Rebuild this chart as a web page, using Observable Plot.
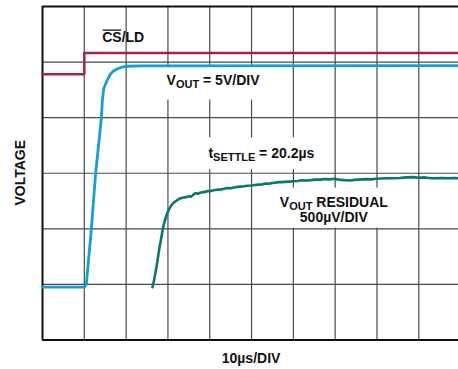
<!DOCTYPE html>
<html><head><meta charset="utf-8">
<script src="https://cdn.jsdelivr.net/npm/d3@7"></script>
<script src="https://cdn.jsdelivr.net/npm/@observablehq/plot@0.6"></script>
<style>
body{margin:0;background:#fff}
#chart{width:458px;height:369px;overflow:hidden}
text{white-space:pre}
</style>
</head><body><div id="chart"></div>
<script>
// time axis in divisions (10us/DIV), vertical in screen divisions
const gridX = [1,2,3,4,5,6,7,8,9];
const gridY = [1,2,3,4,5];

// CS/LD logic trace
const csldX = [0, 1.0, 1.0, 9.95];
const csldY = [4.782, 4.782, 5.163, 5.163];

// VOUT (5V/DIV)
const voutX = [0, 1.0, 1.048, 1.168, 1.271, 1.408, 1.432, 1.463, 1.511, 1.571, 1.631, 1.70, 1.791, 1.90, 2.031, 2.35, 9.95];
const voutY = [0.95, 0.95, 1.0, 1.99, 3.0, 3.99, 4.31, 4.52, 4.61, 4.71, 4.79, 4.84, 4.88, 4.91, 4.925, 4.933, 4.935];

// VOUT residual (500uV/DIV)
const residX = [2.63,2.67,2.71,2.745,2.775,2.80,2.83,2.86,2.885,2.92,2.95,2.99,3.03,3.09,3.15,3.21,3.27,3.35,3.43,3.50,3.55,3.59,3.63,3.67,3.72,3.77,3.83,3.90,3.95,4.00,4.07,4.13,4.20,4.27,4.35,4.42,4.50,4.58,4.66,4.74,4.82,4.90,4.99,5.08,5.16,5.25,5.33,5.41,5.50,5.60,5.71,5.80,5.90,6.00,6.10,6.20,6.35,6.45,6.55,6.65,6.75,6.85,6.99,7.05,7.15,7.25,7.35,7.45,7.55,7.65,7.75,7.85,7.99,8.10,8.25,8.40,8.55,8.70,8.87,9.00,9.15,9.30,9.42,9.55,9.70,9.85,9.95];
const residY = [0.95,1.08,1.25,1.40,1.55,1.67,1.79,1.92,2.03,2.13,2.21,2.29,2.36,2.43,2.48,2.51,2.54,2.56,2.57,2.585,2.58,2.60,2.63,2.64,2.63,2.65,2.66,2.665,2.68,2.675,2.69,2.70,2.705,2.71,2.72,2.735,2.73,2.745,2.755,2.76,2.765,2.775,2.78,2.79,2.795,2.80,2.815,2.81,2.825,2.835,2.84,2.845,2.85,2.855,2.86,2.875,2.87,2.88,2.885,2.885,2.895,2.89,2.90,2.89,2.88,2.875,2.87,2.88,2.885,2.89,2.895,2.89,2.90,2.905,2.91,2.91,2.915,2.925,2.93,2.92,2.925,2.91,2.91,2.915,2.91,2.915,2.91];

const xLabel = "10µs/DIV";
const yLabel = "VOLTAGE";

const toRows = (xs, ys) => xs.map((x, i) => ({x, y: ys[i]}));

const FONT = "'Liberation Sans', Arial, Helvetica, sans-serif";

const plot = Plot.plot({
  width: 458, height: 369,
  marginLeft: 42, marginRight: 0, marginTop: 6, marginBottom: 29.5,
  x: {domain: [0, 9.95], axis: null},
  y: {domain: [0, 6], axis: null},
  style: {background: "#fff", fontFamily: FONT},
  marks: [
    Plot.ruleX(gridX, {stroke: "#4a4a4a", strokeWidth: 1.2}),
    Plot.ruleY(gridY, {stroke: "#4a4a4a", strokeWidth: 1.2}),
    Plot.ruleX([0], {stroke: "#111", strokeWidth: 2}),
    Plot.ruleY([0, 6], {stroke: "#111", strokeWidth: 2}),
    Plot.line(toRows(csldX, csldY), {x: "x", y: "y", stroke: "#a3214f", strokeWidth: 2.5, curve: "linear"}),
    Plot.line(toRows(residX, residY), {x: "x", y: "y", stroke: "#08776d", strokeWidth: 2.6, curve: "linear"}),
    Plot.line(toRows(voutX, voutY), {x: "x", y: "y", stroke: "#11a0d9", strokeWidth: 2.8, curve: "linear"})
  ]
});
document.getElementById("chart").appendChild(plot);

const sx = plot.scale("x"), sy = plot.scale("y");
const svg = d3.select(plot);
const firstLine = svg.select('g[aria-label="line"]').node();
const ns = "http://www.w3.org/2000/svg";

// lines: array of arrays of parts; "_" prefix = subscript
function makeText(lines, x, y, anchor, lineGap) {
  const t = svg.append("text")
    .attr("x", x).attr("y", y)
    .attr("text-anchor", anchor || "start")
    .attr("font-family", FONT).attr("font-weight", "bold")
    .attr("font-size", 14).attr("fill", "#111");
  let shift = 0;
  lines.forEach((parts, li) => {
    parts.forEach((p, pi) => {
      const sub = p.startsWith("_");
      const s = sub ? p.slice(1) : p;
      const want = sub ? 3 : 0;
      const ts = t.append("tspan").attr("font-size", sub ? 11 : 14).text(s);
      if (li > 0 && pi === 0) {
        ts.attr("x", x).attr("dy", lineGap + want - shift);
      } else {
        ts.attr("dy", want - shift);
      }
      shift = want;
    });
  });
  return t;
}
function boxBehind(node, pad) {
  const b = node.node().getBBox();
  const r = document.createElementNS(ns, "rect");
  r.setAttribute("x", b.x - pad[0]); r.setAttribute("y", b.y - pad[1]);
  r.setAttribute("width", b.width + pad[0] + pad[2]);
  r.setAttribute("height", b.height + pad[1] + pad[3]);
  r.setAttribute("fill", "#fff");
  firstLine.parentNode.insertBefore(r, firstLine);
}

// CS/LD label with overbar on CS
const cs = makeText([["CS/LD"]], sx.apply(1.44), sy.apply(5.357));
const csW = cs.node().getSubStringLength(0, 2);
svg.append("line")
  .attr("x1", sx.apply(1.44) + 0.5).attr("x2", sx.apply(1.44) + csW - 0.5)
  .attr("y1", sy.apply(5.357) - 11.6).attr("y2", sy.apply(5.357) - 11.6)
  .attr("stroke", "#111").attr("stroke-width", 1.3);

const v1 = makeText([["V", "_OUT", " = 5V/DIV"]], sx.apply(2.98), sy.apply(4.57));
boxBehind(v1, [7, 6, 5, 9]);

const ts = makeText([["t", "_SETTLE", " = 20.2µs"]], sx.apply(3.98), sy.apply(3.26));
boxBehind(ts, [8, 8, 6, 6]);

const r1 = makeText([["V", "_OUT", " RESIDUAL"], ["500µV/DIV"]], sx.apply(6.98), sy.apply(2.39), "middle", 15);
boxBehind(r1, [7, 6, 6, 3]);

// axis titles
makeText([[xLabel]], sx.apply(5), 363, "middle");
svg.append("text")
  .attr("transform", `translate(25,${(sy.apply(0) + sy.apply(6)) / 2}) rotate(-90)`)
  .attr("text-anchor", "middle")
  .attr("font-family", FONT).attr("font-weight", "bold")
  .attr("font-size", 14).attr("fill", "#111")
  .text(yLabel);
</script>
</body></html>
